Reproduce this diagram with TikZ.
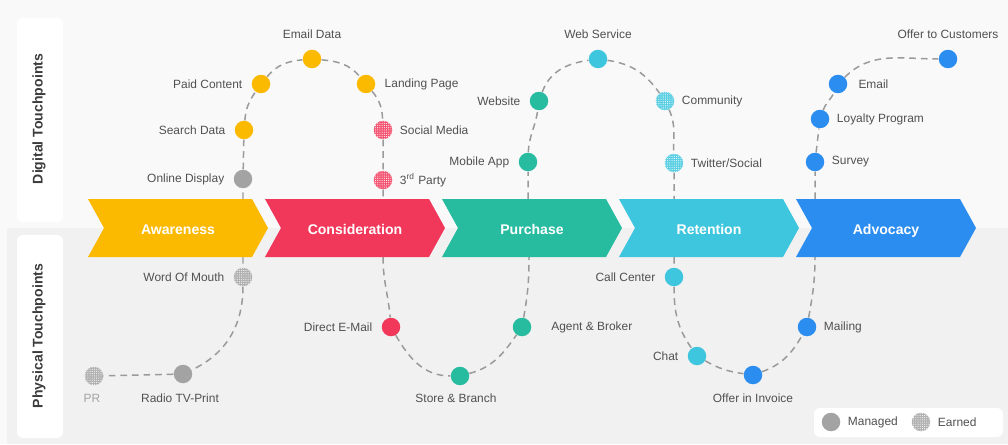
\documentclass[tikz,border=0pt]{standalone}
\usepackage{fontspec}
\setmainfont{Liberation Sans}
\usetikzlibrary{patterns.meta,positioning}
\definecolor{bgtop}{HTML}{F9F9F9}
\definecolor{bgbot}{HTML}{F1F1F1}
\definecolor{cyel}{HTML}{FBB900}
\definecolor{cred}{HTML}{F2385A}
\definecolor{cteal}{HTML}{27BBA0}
\definecolor{ccyan}{HTML}{3EC6DE}
\definecolor{cblue}{HTML}{2B8DF0}
\definecolor{cgray}{HTML}{A3A3A3}
\definecolor{txtgray}{HTML}{505050}
\definecolor{sidegray}{HTML}{3C3C3C}
\definecolor{linegray}{HTML}{9A9A9A}
\pgfdeclarelayer{back}
\pgfdeclarelayer{lines}
\pgfsetlayers{back,lines,main}
\newcommand{\lblfont}{\fontsize{6.8pt}{8pt}\selectfont}
\tikzset{
  lbl/.style={text=txtgray, font=\lblfont, inner sep=1pt},
  dotnode/.style={circle, minimum size=0.37cm, inner sep=0pt},
  man/.style={dotnode, fill=#1},
  earn/.style={dotnode, preaction={fill=#1!85!white}, pattern={Dots[distance=1.25pt,radius=0.3pt]}, pattern color=white},
  conn/.style={draw=linegray, line width=0.85pt, dash pattern=on 3.8pt off 2.8pt},
  clbl/.style={text=white, font=\bfseries\fontsize{8}{9}\selectfont, anchor=base},
  sidelbl/.style={rotate=90, text=sidegray, font=\bfseries\fontsize{8}{9}\selectfont},
  panel/.style={fill=white, rounded corners=0.12cm},
}
\begin{document}
\begin{tikzpicture}[x=0.02cm,y=0.02cm]
\useasboundingbox (0,0) rectangle (1008,444);
\begin{pgfonlayer}{back}
  \fill[bgtop] (0,0) rectangle (1008,444);
  \fill[bgbot] (7,0) rectangle (1008,216);
  \fill[panel] (17,222) rectangle (63,426);
  \fill[panel] (17,6) rectangle (63,209);
  \fill[panel] (814,7) rectangle (1003,36);
\end{pgfonlayer}
\node[sidelbl] (dig) at (39,325) {Digital Touchpoints};
\node[sidelbl] (phy) at (39,108) {Physical Touchpoints};
% chevrons
\foreach \i/\c/\t/\n in {0/cyel/Awareness/aw,1/cred/Consideration/co,2/cteal/Purchase/pu,3/ccyan/Retention/re,4/cblue/Advocacy/ad}{
  \pgfmathsetmacro{\xo}{88+177*\i}
  \fill[\c] (\xo,245) -- (\xo+164,245) -- (\xo+180,216) -- (\xo+164,187) -- (\xo,187) -- (\xo+16,216) -- cycle;
  \node[clbl] (\n) at (\xo+90,210) {\t};
}
\coordinate (c1t) at (243,245); \coordinate (c1b) at (243,187);
\coordinate (c2t) at (383,245); \coordinate (c2b) at (383,187);
\coordinate (c3t) at (528,245); \coordinate (c3b) at (529,187);
\coordinate (c4t) at (674,245); \coordinate (c4b) at (674,187);
\coordinate (c5t) at (815,245); \coordinate (c5b) at (815,187);
% awareness digital
\node[man=cgray] (od) at (243,265) {};
\node[man=cyel] (sd) at (244,314) {};
\node[man=cyel] (pd) at (261,360) {};
\node[man=cyel] (ed) at (312,385) {};
\node[man=cyel] (lp) at (366,360) {};
\node[earn=cred] (sm) at (383,314) {};
\node[earn=cred] (tp) at (383,264) {};
\node[lbl, left=4pt of od] (odl) {Online Display};
\node[lbl, left=4pt of sd] (sdl) {Search Data};
\node[lbl, left=4pt of pd] (pdl) {Paid Content};
\node[lbl, above=5pt of ed] (edl) {Email Data};
\node[lbl, right=4pt of lp] (lpl) {Landing Page};
\node[lbl, right=3pt of sm] (sml) {Social Media};
\node[lbl, right=3pt of tp] (tpl) {3\textsuperscript{rd} Party};
% awareness physical
\node[earn=cgray] (wom) at (243,167) {};
\node[man=cgray] (rtv) at (183,70) {};
\node[earn=cgray] (pr) at (94,68) {};
\node[lbl, left=4pt of wom] (woml) {Word Of Mouth};
\node[lbl, anchor=center] (rtvl) at (180,46) {Radio TV-Print};
\node[lbl, anchor=center, text=cgray] (prl) at (92,46) {PR};
% consideration physical
\node[man=cred] (dem) at (391,117) {};
\node[man=cteal] (sb) at (460,68) {};
\node[man=cteal] (ab) at (522,117) {};
\node[lbl, left=4pt of dem] (deml) {Direct E-Mail};
\node[lbl, anchor=center] (sbl) at (456,46) {Store \& Branch};
\node[lbl, right=10pt of ab] (abl) {Agent \& Broker};
% purchase digital
\node[man=cteal] (ma) at (528,282) {};
\node[man=cteal] (ws) at (539,343) {};
\node[man=ccyan] (wsv) at (598,385) {};
\node[earn=ccyan] (com) at (665,343) {};
\node[earn=ccyan] (tw) at (674,281) {};
\node[lbl, left=4pt of ma] (mal) {Mobile App};
\node[lbl, left=4pt of ws] (wsl) {Website};
\node[lbl, above=5pt of wsv] (wsvl) {Web Service};
\node[lbl, right=3pt of com] (coml) {Community};
\node[lbl, right=3pt of tw] (twl) {Twitter/Social};
% retention physical
\node[man=ccyan] (cc) at (674,167) {};
\node[man=ccyan] (chat) at (697,88) {};
\node[man=cblue] (oii) at (753,69) {};
\node[man=cblue] (mail) at (807,117) {};
\node[lbl, left=4pt of cc] (ccl) {Call Center};
\node[lbl, left=4pt of chat] (chatl) {Chat};
\node[lbl, anchor=center] (oiil) at (753,46) {Offer in Invoice};
\node[lbl, right=3pt of mail] (maill) {Mailing};
% advocacy digital
\node[man=cblue] (sur) at (815,282) {};
\node[man=cblue] (loy) at (820,325) {};
\node[man=cblue] (em) at (838,360) {};
\node[man=cblue] (otc) at (948,385) {};
\node[lbl, right=3pt of sur] (surl) {Survey};
\node[lbl, right=3pt of loy] (loyl) {Loyalty Program};
\node[lbl, right=5pt of em] (eml) {Email};
\node[lbl, above=5pt of otc] (otcl) {Offer to Customers};
% legend
\node[man=cgray] (lgm) at (831,22) {};
\node[lbl, right=3pt of lgm] (lgml) {Managed};
\node[earn=cgray] (lge) at (921,22) {};
\node[lbl, right=3pt of lge] (lgel) {Earned};
% connectors
\begin{pgfonlayer}{lines}
\draw[conn] (c1t) -- (od) -- (sd) to[out=85,in=235] (pd) to[out=50,in=185] (ed)
  to[out=-5,in=130] (lp) to[out=-50,in=92] (sm) -- (tp) -- (c2t);
\draw[conn] (c1b) -- (wom) to[out=-90,in=25] (rtv) -- (pr);
\draw[conn] (c2b) to[out=-90,in=95] (dem) to[out=-60,in=180] (sb) to[out=15,in=235] (ab) to[out=80,in=-90] (c3b);
\draw[conn] (c3t) -- (ma) to[out=88,in=262] (ws) to[out=70,in=188] (wsv) to[out=-8,in=125] (com) to[out=-65,in=92] (tw) -- (c4t);
\draw[conn] (c4b) -- (cc) to[out=-90,in=125] (chat) to[out=-30,in=172] (oii) to[out=20,in=240] (mail) to[out=80,in=-90] (c5b);
\draw[conn] (c5t) -- (sur) -- (loy) to[out=70,in=245] (em) to[out=45,in=180] (otc);
\end{pgfonlayer}
\end{tikzpicture}
\end{document}
